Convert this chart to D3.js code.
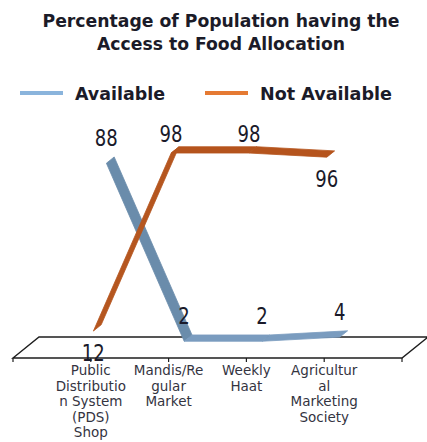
<!DOCTYPE html>
<html>
<head>
<meta charset="utf-8">
<script src="https://cdn.jsdelivr.net/npm/d3@7"></script>
<style>
  body { margin: 0; background: #fff; }
  text { font-family: "DejaVu Sans", Verdana, sans-serif; }
</style>
</head>
<body>
<div id="chart"></div>
<script>
const categories = ['PDS', 'Mandis', 'Weekly', 'Agri']
const categoryLabels = [
    ['Public', 'Distributio', 'n System', '(PDS)', 'Shop'],
    ['Mandis/Re', 'gular', 'Market'],
    ['Weekly', 'Haat'],
    ['Agricultur', 'al', 'Marketing', 'Society']
]
const seriesNames = ['Available', 'Not Available']
const available = [88, 2, 2, 4]
const notAvailable = [12, 98, 98, 96]
// where each data label sits relative to its point
const availablePos = ['above', 'above', 'above', 'above']
const notAvailablePos = ['below', 'above', 'above', 'below']

const width = 427
const height = 442

const svg = d3.select('#chart')
    .append('svg')
    .attr('width', width)
    .attr('height', height)

// category axis runs along the front edge of the floor
const x = d3.scalePoint().domain(categories).range([13, 402]).padding(1)
const y = d3.scaleLinear().domain([0, 100]).range([358, 151])
const depth = { dx: 26, dy: -21 }   // offset for full depth of the 3d box

const proj = (cat, v, d) => [x(cat) + depth.dx * d, y(v) + depth.dy * d]

// floor
const [x0, x1] = x.range()
const y0 = y(0)
svg.append('path')
    .attr('d', `M${x0},${y0} L${x1},${y0} L${x1 + depth.dx},${y0 + depth.dy} L${x0 + depth.dx},${y0 + depth.dy} Z`)
    .attr('fill', 'none')
    .attr('stroke', '#1e1e1e')
    .attr('stroke-width', 1.4)

// tick marks on the front edge
const tickXs = [x0].concat(categories.map(c => x(c)), [x1])
svg.selectAll('.tick')
    .data(tickXs)
    .enter()
    .append('line')
    .attr('x1', d => d).attr('x2', d => d)
    .attr('y1', y0).attr('y2', y0 + 4)
    .attr('stroke', '#1e1e1e')
    .attr('stroke-width', 1.2)

// ribbons, back series first
function ribbon(values, dMid, colFlat, colSlope) {
    const w = 0.15
    const g = svg.append('g')
    for (let i = 0; i < values.length - 1; i++) {
        const a = categories[i], b = categories[i + 1]
        const pts = [
            proj(a, values[i], dMid - w),
            proj(b, values[i + 1], dMid - w),
            proj(b, values[i + 1], dMid + w),
            proj(a, values[i], dMid + w)
        ]
        const col = Math.abs(values[i + 1] - values[i]) > 10 ? colSlope : colFlat
        g.append('polygon')
            .attr('points', pts.map(p => p.join(',')).join(' '))
            .attr('fill', col)
            .attr('stroke', col)
            .attr('stroke-width', 0.8)
    }
}
ribbon(available, 0.75, '#7a9cbf', '#6a8cab')
ribbon(notAvailable, 0.25, '#b5541d', '#b5561f')

// data labels
function labels(values, dMid, pos, upOff) {
    svg.append('g')
        .selectAll('text')
        .data(values)
        .enter()
        .append('text')
        .attr('x', (v, i) => proj(categories[i], v, dMid)[0] - 4)
        .attr('y', (v, i) => proj(categories[i], v, dMid)[1] + (pos[i] === 'above' ? upOff : 33))
        .attr('text-anchor', 'middle')
        .attr('font-size', 23)
        .attr('textLength', v => String(v).length * 11.5)
        .attr('lengthAdjust', 'spacingAndGlyphs')
        .attr('fill', '#1a1a2a')
        .text(v => v)
}
labels(available, 0.75, availablePos, -14)
labels(notAvailable, 0.25, notAvailablePos, -8)

// category labels
categoryLabels.forEach((lines, i) => {
    const t = svg.append('text')
        .attr('x', x(categories[i]))
        .attr('y', 375)
        .attr('text-anchor', 'middle')
        .attr('font-size', 13.5)
        .attr('fill', '#34343f')
    lines.forEach((s, j) => {
        t.append('tspan')
            .attr('x', x(categories[i]))
            .attr('y', 375 + j * 15.5)
            .text(s)
    })
})

// title
const title = ['Percentage of Population having the', 'Access to Food Allocation']
const titleLen = [357, 248]
title.forEach((s, i) => {
    svg.append('text')
        .attr('x', 221)
        .attr('y', 27 + i * 23)
        .attr('text-anchor', 'middle')
        .attr('font-size', 18)
        .attr('font-weight', 'bold')
        .attr('textLength', titleLen[i])
        .attr('lengthAdjust', 'spacingAndGlyphs')
        .attr('fill', '#1b1b28')
        .text(s)
})

// legend
const legendX = [20, 205]
const legendCol = ['#8ab4dc', '#e57a33']
const legendLen = [90, 132]
seriesNames.forEach((s, i) => {
    svg.append('line')
        .attr('x1', legendX[i]).attr('x2', legendX[i] + 43)
        .attr('y1', 93).attr('y2', 93)
        .attr('stroke', legendCol[i])
        .attr('stroke-width', 4)
    svg.append('text')
        .attr('x', legendX[i] + 55)
        .attr('y', 100)
        .attr('font-size', 17)
        .attr('font-weight', 'bold')
        .attr('textLength', legendLen[i])
        .attr('lengthAdjust', 'spacingAndGlyphs')
        .attr('fill', '#1b1b28')
        .text(s)
})
</script>
</body>
</html>
